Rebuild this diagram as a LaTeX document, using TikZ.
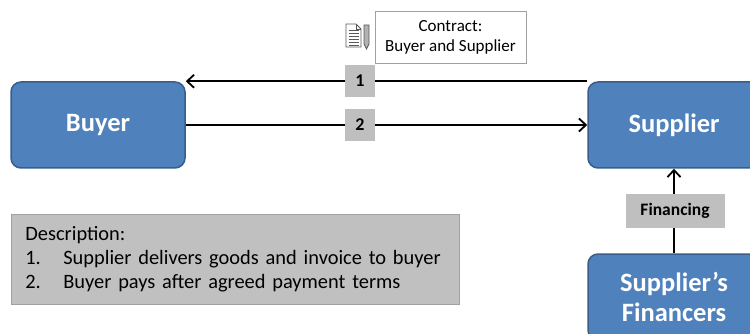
\documentclass[tikz,border=0pt]{standalone}
\usepackage{fontspec}
\setmainfont{Carlito}
\usetikzlibrary{arrows.meta}
\definecolor{boxblue}{HTML}{4F81BD}
\definecolor{boxedge}{HTML}{385D8A}
\definecolor{lblgray}{HTML}{BFBFBF}
\definecolor{descgray}{HTML}{C0C0C0}
\definecolor{descedge}{HTML}{A0A0A0}
\begin{document}
\begin{tikzpicture}[x=1pt,y=-1pt,
        party/.style={draw=boxedge,rectangle,rounded corners=10pt,fill=boxblue,line width=1.5pt,minimum width=174pt,minimum height=86pt,text=white,font=\fontsize{26.5}{30}\selectfont\bfseries,align=center},
        lbl/.style={rectangle,fill=lblgray,inner sep=0pt,font=\fontsize{18}{20}\selectfont\bfseries},
        flow/.style={line width=2.2pt,-{Straight Barb[length=7pt,width=13pt,line width=1.8pt]}}
      ]
      \useasboundingbox (0,0) rectangle (750,334);
      \node[party] (buyer) at (98,125) {Buyer};
      \node[party,minimum width=172pt] (supplier) at (674,125) {Supplier};
      \node[party,minimum width=172pt] (fin) at (674,297) {Supplier’s\\Financers};

      \draw[flow] (supplier.north west) -- (buyer.north east);
      \draw[flow] (buyer.east) -- (supplier.west);
      \draw[flow] (fin.north) -- (supplier.south);

      \node[lbl,minimum width=30pt,minimum height=32pt] (one) at (360,81) {1};
      \node[lbl,minimum width=30pt,minimum height=32pt] (two) at (360,125) {2};
      \node[lbl,minimum width=99pt,minimum height=33pt,font=\fontsize{17.5}{20}\selectfont\bfseries] (financing) at (675,211) {Financing};

      \node[draw=descedge,fill=white,line width=0.8pt,minimum width=151pt,minimum height=52pt,inner sep=0pt,align=center,font=\fontsize{17}{20}\selectfont] (contract) at (450.5,37) {Contract:\\Buyer and Supplier};

      % contract icon
      \draw[gray!70!black,fill=white,line width=0.8pt] (346,24) -- (356,24) -- (361,29) -- (361,47) -- (346,47) -- cycle;
      \draw[gray!70!black,line width=0.8pt] (356,24) -- (356,29) -- (361,29);
      \foreach \yy in {30,33,...,45}
        \draw[gray!70!black,line width=0.9pt] (348.5,\yy) -- (358.5,\yy);
      \draw[gray!70!black,fill=gray!60,line width=0.8pt] (364,25) -- (369,25) -- (369,44) -- (366.5,49) -- (364,44) -- cycle;

      \node[draw=descedge,fill=descgray,line width=0.8pt,anchor=north west,minimum width=448pt,minimum height=90pt,inner xsep=14pt,text width=420pt,align=left,font=\fontsize{20.4}{24}\selectfont] (desc) at (11,214)
        {Description:\\\makebox[38pt][l]{1.}Supplier delivers goods and invoice to buyer\\\makebox[38pt][l]{2.}Buyer pays after agreed payment terms};
    \end{tikzpicture}
\end{document}
